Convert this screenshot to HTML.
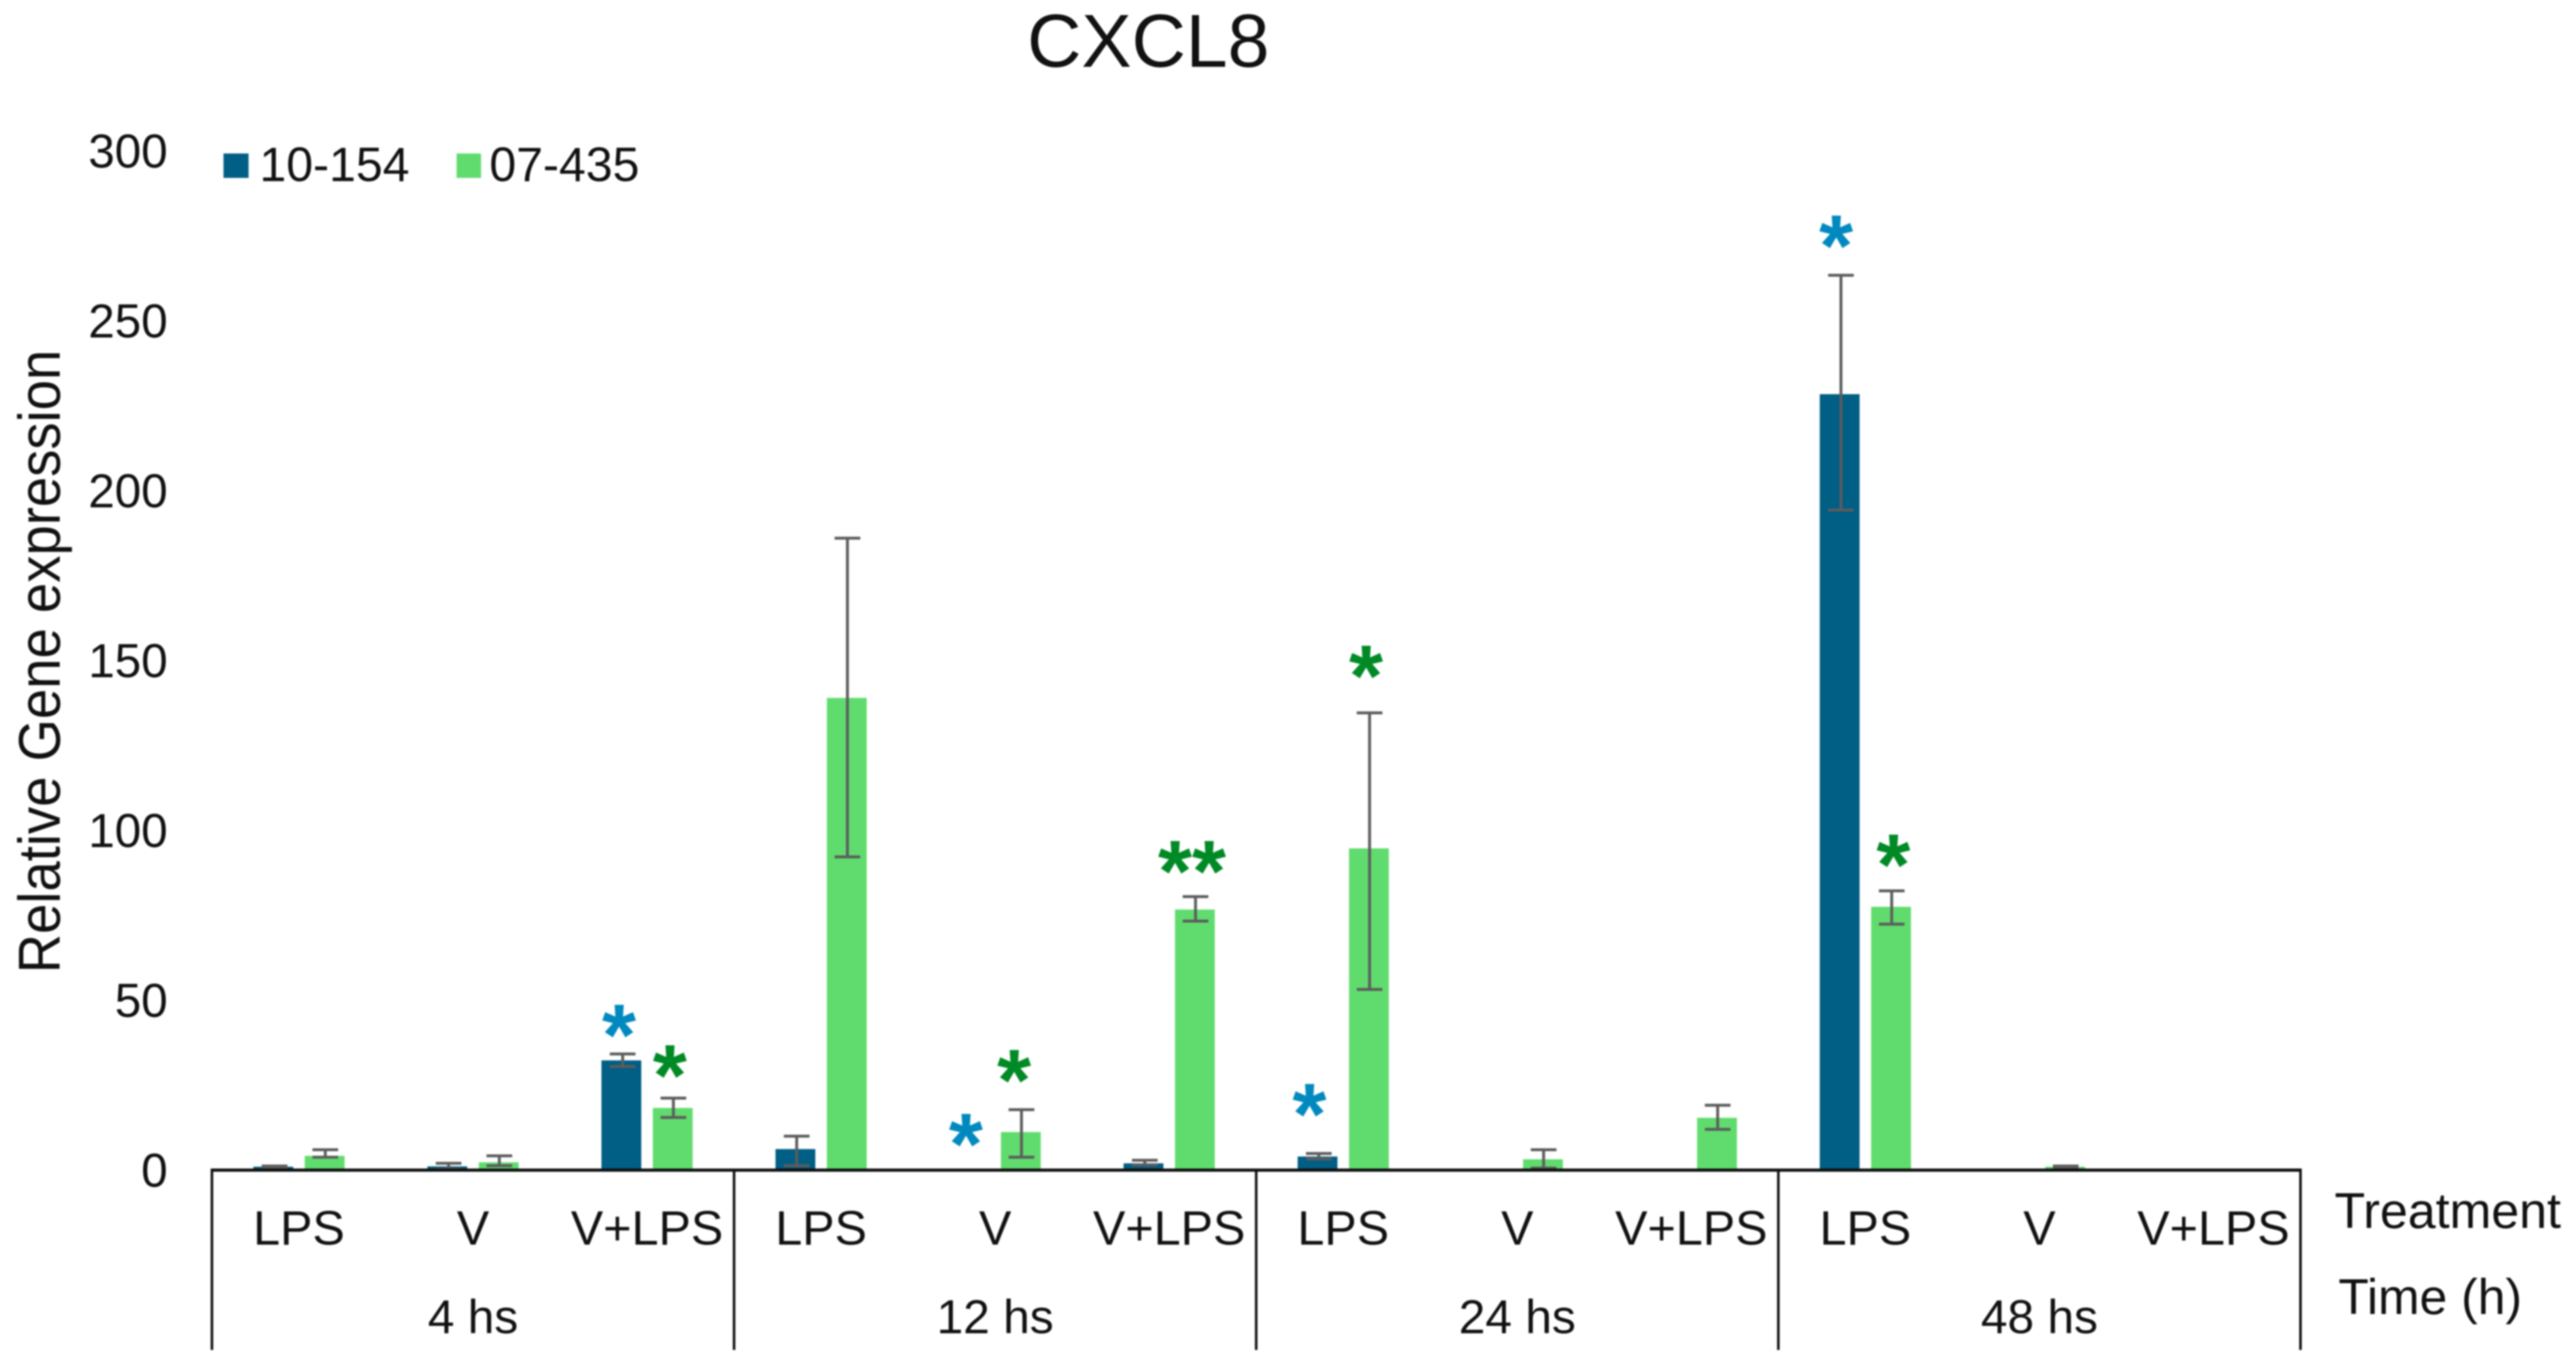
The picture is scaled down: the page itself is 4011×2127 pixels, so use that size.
<!DOCTYPE html>
<html lang="en">
<head>
<meta charset="utf-8">
<title>CXCL8 relative gene expression</title>
<style>
html,body{margin:0;padding:0;background:#fff;width:4011px;height:2127px;overflow:hidden}
svg{display:block;filter:blur(1.2px)}
text{font-family:"Liberation Sans",Arial,sans-serif;fill:#111}
.sig{font-weight:bold;font-size:136px}
</style>
</head>
<body>
<svg id="chart" xmlns="http://www.w3.org/2000/svg" width="4011" height="2127" viewBox="0 0 4011 2127">
  <rect width="4011" height="2127" fill="#ffffff"/>
  <text x="1788" y="104" font-size="117" text-anchor="middle">CXCL8</text>
  <text transform="translate(93,1030) rotate(-90) scale(1,1.08)" font-size="84.8" text-anchor="middle">Relative Gene expression</text>
  <rect x="348" y="239" width="39" height="38" fill="#015e84"/>
  <text x="404" y="282" font-size="75">10-154</text>
  <rect x="711" y="239" width="38" height="38" fill="#60dc6e"/>
  <text x="762" y="282" font-size="75">07-435</text>
  <text x="3635" y="1912" font-size="78">Treatment</text>
  <text x="3641" y="2046" font-size="77.6">Time (h)</text>
  <g id="bars"></g>
  <g id="errors"></g>
  <g id="axes"></g>
  <g id="sigmarks"></g>
</svg>
<script>
const treatments = ['LPS','V','V+LPS','LPS','V','V+LPS','LPS','V','V+LPS','LPS','V','V+LPS'];
const timeGroups = ['4 hs','12 hs','24 hs','48 hs'];
const yTicks = [0,50,100,150,200,250,300];

const blueValues = [1,1.1,32.3,6.2,null,2,4,null,null,228.4,null,null];
const blueHigh   = [1.2,2,34.2,10,null,2.9,4.9,null,null,263.4,null,null];
const blueLow    = [0.7,0.3,30.5,1.3,null,1.5,3.3,null,null,194.3,null,null];

const greenValues = [4.2,2.3,18.3,139,11.2,76.7,94.7,3.2,15.4,77.5,1,null];
const greenHigh   = [6,4.2,21.2,186,17.8,80.5,134.6,6,19.1,82.2,1.2,null];
const greenLow    = [3.8,1.3,15.5,92.2,3.8,73.3,53.2,0.6,12,72.4,0.5,null];

/* significance marks: position on the category axis, level on the value axis */
const sigCategoryPos = [2.339,2.631,4.332,4.609,5.631,6.306,6.631,9.332,9.661];
const sigLevel       = [43.3,31.4,11.2,30,91.5,20,149,275.6,93.4];
const sigLabel       = ['*','*','*','*','**','*','*','*','*'];
const sigSeries      = ['blue','green','blue','green','green','blue','green','blue','green'];

const NS = 'http://www.w3.org/2000/svg';
const AXIS_LEFT = 330, AXIS_RIGHT = 3582, AXIS_BASE = 1822, AXIS_BOTTOM = 2102;
const UNIT_PX = 264.5 / 50;
const CAT_W = (AXIS_RIGHT - AXIS_LEFT) / treatments.length;
const BAR_W = 62, BAR_OFFSET = 40, CAP_HALF = 20;
const BLUE = '#015e84', GREEN = '#60dc6e', ERR = '#5c5c5c';
const SIG_BLUE = '#0089bf', SIG_GREEN = '#008a25';

function xScale(pos){ return AXIS_LEFT + pos * CAT_W; }
function yScale(v){ return AXIS_BASE - v * UNIT_PX; }

function make(tag, parent, props, text){
  const el = document.createElementNS(NS, tag);
  for (const k in props) el.setAttribute(k, props[k]);
  if (text !== undefined) el.textContent = text;
  parent.appendChild(el);
  return el;
}

const barsG = document.getElementById('bars');
const errG = document.getElementById('errors');
const axesG = document.getElementById('axes');
const sigG = document.getElementById('sigmarks');

function drawSeries(values, high, low, sign, color, errShift, seriesName){
  values.forEach(function(v, i){
    if (v === null) return;
    const cx = xScale(i + 0.5) + sign * BAR_OFFSET;
    const bar = make('rect', barsG, {x: cx - BAR_W / 2, y: yScale(v), width: BAR_W, height: AXIS_BASE - yScale(v), fill: color});
    
    
    const ex = cx + errShift;
    const yh = yScale(high[i]), yl = yScale(low[i]);
    const eb = make('path', errG, {d: 'M' + (ex - CAP_HALF) + ' ' + yh + 'H' + (ex + CAP_HALF) + 'M' + ex + ' ' + yh + 'V' + yl + 'M' + (ex - CAP_HALF) + ' ' + yl + 'H' + (ex + CAP_HALF), stroke: ERR, 'stroke-width': 4.5, fill: 'none'});
    
    
  });
}
drawSeries(blueValues, blueHigh, blueLow, -1, BLUE, 2, '10-154');
drawSeries(greenValues, greenHigh, greenLow, 1, GREEN, 1, '07-435');

/* y tick labels */
yTicks.forEach(function(t){
  const lab = make('text', axesG, {x: 261, y: yScale(t) + 26, 'font-size': 74, 'text-anchor': 'end'}, String(t));
  
  
});

/* category axis */
const baseline = make('line', axesG, {x1: AXIS_LEFT - 2, x2: AXIS_RIGHT + 2, y1: AXIS_BASE, y2: AXIS_BASE, stroke: '#111', 'stroke-width': 5});



timeGroups.forEach(function(g, i){
  const per = treatments.length / timeGroups.length;
  const lab = make('text', axesG, {x: xScale((i + 0.5) * per), y: 2076, 'font-size': 74.5, 'text-anchor': 'middle'}, g);
  
  
});
for (let i = 0; i <= timeGroups.length; i++){
  const x = xScale(i * treatments.length / timeGroups.length);
  const div = make('line', axesG, {x1: x, x2: x, y1: AXIS_BASE, y2: AXIS_BOTTOM, stroke: '#111', 'stroke-width': 4});
  
  
}
treatments.forEach(function(t, i){
  const lab = make('text', axesG, {x: xScale(i + 0.5), y: 1938, 'font-size': 75.5, 'text-anchor': 'middle'}, t);
  
  
});

/* significance asterisks */
sigLabel.forEach(function(s, i){
  const col = sigSeries[i] === 'blue' ? SIG_BLUE : SIG_GREEN;
  const m = make('text', sigG, {x: xScale(sigCategoryPos[i]), y: yScale(sigLevel[i]) + 136 * 0.48, 'text-anchor': 'middle', 'class': 'sig', style: 'fill:' + col}, s);
  
  
});
</script>
</body>
</html>
